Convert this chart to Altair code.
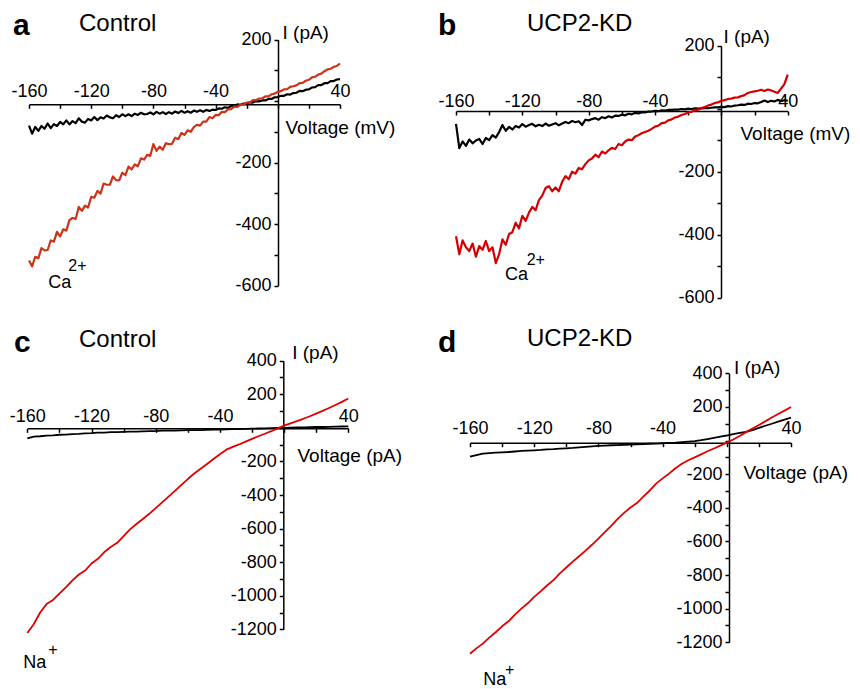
import altair as alt
import pandas as pd

FONT = "Liberation Sans"
W, H = 844, 681

# ---------------- data ----------------
V_CA = list(range(-160, 41, 2))   # mV, Ca2+ ramps (panels a, b)
V_NA = list(range(-160, 41, 4))   # mV, Na+ ramps (panels c, d)
X_TICKS = [-160, -140, -120, -100, -80, -60, -40, -20, 0, 20, 40]

A_CTRL = [-80, -106, -84, -97, -81, -90, -73, -88, -75, -81,
          -68, -76, -63, -76, -65, -72, -56, -67, -70, -58,
          -63, -52, -62, -53, -57, -47, -53, -56, -46, -52,
          -43, -49, -43, -49, -41, -45, -38, -43, -42, -37,
          -43, -35, -41, -36, -42, -36, -41, -34, -39, -32,
          -38, -33, -38, -31, -35, -30, -35, -29, -32, -28,
          -29, -24, -25, -20, -22, -16, -16, -11, -12, -8,
          -8, -4, -5, 0, -1, 2, 2, 7, 7, 12,
          13, 17, 17, 22, 21, 26, 27, 33, 32, 37,
          38, 44, 45, 52, 52, 58, 58, 65, 65, 70,
          71]
A_CA = [-518, -537, -506, -511, -478, -485, -484, -453, -457, -425,
        -440, -417, -421, -387, -380, -383, -344, -357, -340, -346,
        -311, -314, -292, -301, -268, -272, -272, -245, -257, -258,
        -233, -241, -213, -222, -206, -212, -186, -190, -175, -178,
        -140, -162, -148, -158, -137, -140, -139, -119, -124, -104,
        -110, -95, -100, -85, -77, -80, -67, -67, -52, -56,
        -45, -46, -35, -36, -27, -26, -18, -19, -12, -11,
        -5, -4, 3, 3, 8, 9, 15, 15, 22, 24,
        30, 32, 38, 39, 46, 48, 51, 58, 59, 66,
        69, 77, 79, 86, 89, 97, 103, 105, 111, 114,
        122]

B_CTRL = [-48, -125, -104, -118, -98, -110, -101, -96, -112, -93,
          -100, -84, -92, -74, -52, -70, -58, -66, -55, -60,
          -49, -57, -52, -48, -56, -51, -55, -47, -54, -50,
          -46, -53, -47, -42, -46, -39, -43, -40, -52, -35,
          -37, -33, -30, -35, -27, -30, -24, -28, -22, -23,
          -19, -21, -16, -18, -13, -15, -11, -12, -9, -9,
          -7, -8, -5, -6, -4, -4, -3, -3, -1, -2,
          0, -1, 1, 0, 1, 2, 2, 3, 4, 4,
          6, 5, 8, 7, 10, 11, 13, 12, 16, 15,
          18, 17, 21, 26, 21, 25, 23, 28, 24, 27,
          25]
B_CA = [-405, -462, -418, -440, -452, -428, -470, -436, -448, -420,
        -452, -440, -490, -462, -415, -432, -398, -392, -362, -380,
        -340, -356, -330, -312, -322, -290, -276, -252, -246, -262,
        -250, -262, -232, -214, -224, -200, -206, -188, -192, -176,
        -164, -158, -146, -154, -136, -142, -132, -124, -128, -112,
        -116, -104, -98, -100, -88, -84, -78, -74, -70, -64,
        -57, -54, -46, -44, -37, -34, -28, -25, -20, -17,
        -12, -10, -5, -3, 2, 5, 10, 13, 18, 20,
        25, 27, 31, 32, 35, 36, 40, 43, 50, 53,
        55, 57, 60, 56, 61, 58, 54, 50, 64, 78,
        108]

C_CTRL = [-62, -52, -50, -46, -45, -41, -40, -37, -36, -33,
          -32, -29, -29, -26, -26, -24, -23, -22, -21, -20,
          -19, -17, -17, -16, -15, -14, -13, -13, -12, -11,
          -10, -9, -8, -7, -6, -5, -4, -3, -2, -1,
          0, 1, 2, 3, 4, 5, 5, 6, 7, 8,
          9]
C_NA = [-1222, -1170, -1100, -1050, -1025, -988, -950, -910, -875, -850,
        -808, -780, -740, -710, -685, -645, -605, -573, -543, -512,
        -478, -444, -410, -375, -340, -305, -272, -244, -215, -186,
        -157, -130, -113, -99, -82, -66, -50, -35, -20, -3,
        13, 27, 40, 54, 69, 85, 101, 118, 136, 155,
        175]

D_CTRL = [-96, -86, -78, -75, -72, -70, -68, -65, -62, -60,
          -58, -56, -53, -51, -48, -46, -44, -41, -38, -35,
          -32, -30, -28, -27, -25, -24, -22, -21, -19, -18,
          -16, -14, -12, -9, -6, -3, 2, 9, 16, 23,
          30, 38, 45, 52, 62, 75, 88, 100, 113, 125,
          137]
D_NA = [-1268, -1236, -1208, -1172, -1140, -1105, -1075, -1035, -1000, -968,
        -930, -897, -862, -830, -790, -755, -720, -688, -655, -620,
        -583, -545, -508, -466, -430, -398, -372, -334, -297, -256,
        -225, -197, -165, -138, -117, -100, -82, -64, -47, -30,
        -12, 6, 27, 50, 72, 93, 114, 137, 158, 178,
        200]

Y_TICKS_CA = [-600, -500, -400, -300, -200, -100, 0, 100, 200]
Y_TICKS_NA = [-1200, -1100, -1000, -900, -800, -700, -600, -500, -400,
              -300, -200, -100, 0, 100, 200, 300, 400]


def panel(v, ctrl, ion, ion_color, xr, ydom, yr, yticks, ax_x, ax_y,
          xtitle, ititle, vtitle, label_gap, sw):
    df = pd.DataFrame({
        "V": v + v,
        "I": ctrl + ion,
        "trace": ["control"] * len(v) + ["ion"] * len(v),
    })
    xaxis = alt.Axis(
        orient="bottom", offset=ax_y - H, values=X_TICKS,
        labelExpr="(datum.value % 40 === 0 && datum.value !== 0) ? ('' + datum.value) : ''",
        tickSize=4, labelPadding=-(4 + label_gap), labelBaseline="alphabetic",
        labelFlush=False, labelOverlap=False,
        title=xtitle, titleX=vtitle[0], titleY=vtitle[1] - ax_y,
        titleAlign="left", titleBaseline="middle", titleAngle=0,
    )
    yaxis = alt.Axis(
        orient="left", offset=-ax_x, values=yticks,
        labelExpr="(datum.value % 200 === 0 && datum.value !== 0) ? ('' + datum.value) : ''",
        tickSize=4, labelPadding=3, labelOverlap=False, labelFlush=False,
        title="I (pA)", titleX=ititle[0] - ax_x, titleY=ititle[1],
        titleAlign="left", titleBaseline="middle", titleAngle=0,
    )
    return alt.Chart(df).mark_line(strokeWidth=sw, strokeJoin="round").encode(
        x=alt.X("V:Q", scale=alt.Scale(domain=[-160, 40], range=xr, nice=False, zero=False), axis=xaxis),
        y=alt.Y("I:Q", scale=alt.Scale(domain=ydom, range=yr, nice=False, zero=False), axis=yaxis),
        color=alt.Color("trace:N", scale=alt.Scale(domain=["control", "ion"], range=["#000000", ion_color]), legend=None),
        order=alt.Order("V:Q"),
        detail="trace:N",
    )


def txt(s, x, y, size, weight="normal"):
    return alt.Chart(alt.Data(values=[{}])).mark_text(
        text=s, align="left", baseline="alphabetic", fontSize=size,
        fontWeight=weight, font=FONT, color="black",
    ).encode(x=alt.value(x), y=alt.value(y))


pa = panel(V_CA, A_CTRL, A_CA, "#cc3318", [21, 332], [-600, 200], [277.7, 31.5], Y_TICKS_CA,
           270, 96.3, "Voltage (mV)", (274, 24), (277, 119), 7.6, 2.2)
pb = panel(V_CA, B_CTRL, B_CA, "#d40000", [448, 779.7], [-600, 200], [289.7, 37.7], Y_TICKS_CA,
           713, 103, "Voltage (mV)", (715, 28.7), (732, 125), 5, 2.2)
pc = panel(V_NA, C_CTRL, C_NA, "#e00000", [19.3, 340.3], [-1200, 400], [621.3, 352.7], Y_TICKS_NA,
           275.3, 420.3, "Voltage (pA)", (283.7, 344), (289, 447), 6.6, 1.8)
pd_ = panel(V_NA, D_CTRL, D_NA, "#e00000", [462, 783], [-1200, 400], [634.3, 365.3], Y_TICKS_NA,
            721, 434.7, "Voltage (pA)", (725.4, 359), (735, 464), 9.4, 1.8)

texts = [
    txt("a", 5, 27, 30, "bold"), txt("Control", 71, 22.7, 24),
    txt("b", 430, 27, 30, "bold"), txt("UCP2-KD", 519, 22.7, 24),
    txt("c", 6, 344.3, 30, "bold"), txt("Control", 71, 338.7, 24),
    txt("d", 430, 344.3, 30, "bold"), txt("UCP2-KD", 519, 338, 24),
    txt("Ca", 40.3, 280.3, 18), txt("2+", 60.3, 262.7, 16),
    txt("Ca", 497, 272, 18), txt("2+", 518.7, 257, 16),
    txt("Na", 15.3, 660.3, 18), txt("+", 40.3, 647, 16),
    txt("Na", 475.3, 677, 18), txt("+", 497, 667, 16),
]

chart = alt.layer(pa, pb, pc, pd_, *texts).resolve_scale(
    x="independent", y="independent", color="independent"
).resolve_axis(
    x="independent", y="independent"
).properties(
    width=W, height=H, padding=0,
    autosize=alt.AutoSizeParams(type="none"),
).configure_view(stroke=None).configure_axis(
    grid=False, domainColor="black", tickColor="black", domainWidth=1.5, tickWidth=1.5,
    labelFont=FONT, labelFontSize=18, labelColor="black",
    titleFont=FONT, titleFontSize=19, titleFontWeight="normal", titleColor="black",
)

chart.save("out.html", embed_options={"renderer": "svg", "actions": False})
